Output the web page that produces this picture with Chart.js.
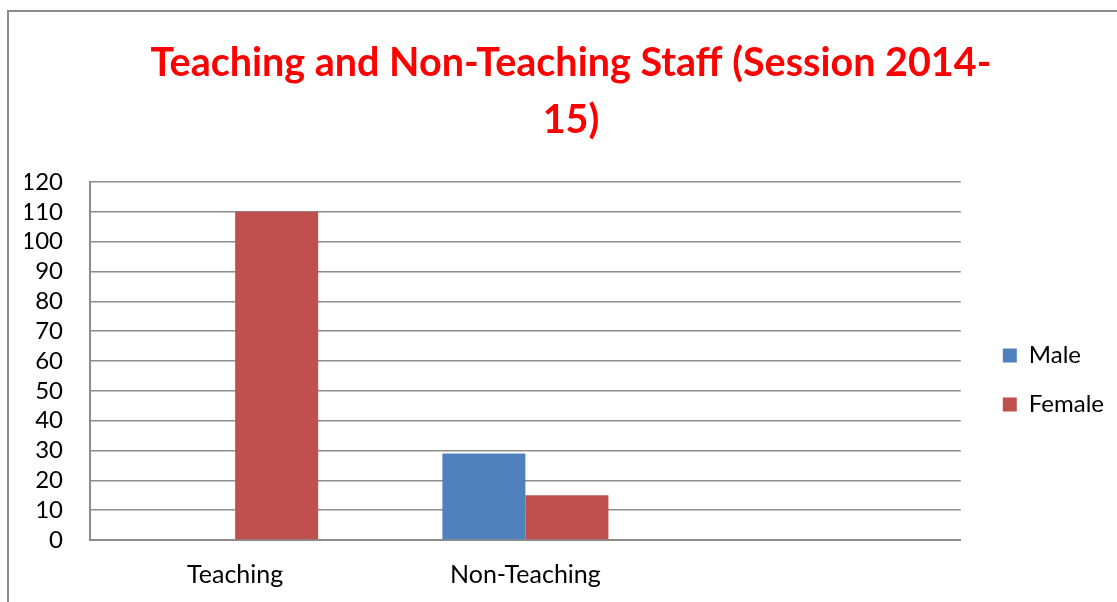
<html>

<head>
    <script type="text/javascript" src="https://cdn.jsdelivr.net/npm/chart.js@4/dist/chart.umd.min.js"></script>
    <style>
        body { margin: 0; background: #fff; overflow: hidden; }
        #frame {
            position: absolute; left: 7px; top: 10px; width: 1200px; height: 700px;
            border-left: 2px solid #8c8c8c; border-top: 2px solid #8c8c8c;
        }
        #wrap { position: absolute; left: 0; top: 0; width: 1117px; height: 602px; }
    </style>
</head>

<body>
    <div id="frame"></div>
    <div id="wrap"><canvas id="staffGraph"></canvas></div>
</body>

</html>

<script type="text/javascript">
    // dados do grafico
    const categorias = ['Teaching', 'Non-Teaching', ''];
    const masculino = [0, 29, null];
    const feminino = [110, 15, null];
    const titulo = ['Teaching and Non-Teaching Staff (Session 2014-', '15)'];

    const cinza = '#8c8c8c';

    // ajusta posicao da legenda e do titulo depois do layout
    const ajusteLayout = {
        id: 'ajusteLayout',
        afterLayout(chart) {
            chart.legend.left += 17;
            chart.legend.right += 17;
            chart.legend.top += 84;
            chart.legend.bottom += 84;
            chart.titleBlock.left += 10;
            chart.titleBlock.right += 10;
        }
    };

    var ctx = document.getElementById('staffGraph').getContext('2d');
    var staffGraph = new Chart(ctx, {
        type: 'bar',
        data: {
            labels: categorias,
            datasets: [{
                label: 'Male',
                data: masculino,
                backgroundColor: '#4f81bd',
                borderWidth: 0
            }, {
                label: 'Female',
                data: feminino,
                backgroundColor: '#c0504d',
                borderWidth: 0
            }]
        },
        plugins: [ajusteLayout],
        options: {
            responsive: true,
            maintainAspectRatio: false,
            animation: false,
            layout: { padding: { left: 25, right: 20, top: 0, bottom: 10 } },
            datasets: { bar: { categoryPercentage: 0.572, barPercentage: 1 } },
            plugins: {
                title: {
                    display: true,
                    text: titulo,
                    color: '#ff0000',
                    font: { family: 'Lato', size: 39.5, weight: 'bold', lineHeight: 1.443 },
                    padding: { top: 35, bottom: 33 }
                },
                legend: {
                    position: 'right',
                    labels: {
                        color: '#000',
                        font: { family: 'Lato', size: 24 },
                        boxWidth: 14,
                        boxHeight: 14,
                        padding: 25
                    }
                },
                tooltip: { enabled: false }
            },
            scales: {
                x: {
                    grid: { display: false, drawTicks: false },
                    border: { color: cinza, width: 2 },
                    ticks: { color: '#000', font: { family: 'Lato', size: 25 }, padding: 20 },
                    afterFit(s) { s.height = 52; }
                },
                y: {
                    min: 0,
                    max: 120,
                    grid: { color: cinza, lineWidth: 1.6, drawTicks: false },
                    border: { color: cinza, width: 2 },
                    ticks: { stepSize: 10, autoSkip: false, color: '#000', font: { family: 'Lato', size: 24 }, padding: 27 },
                    afterFit(s) { s.width = 65; }
                }
            }
        }
    });
</script>
